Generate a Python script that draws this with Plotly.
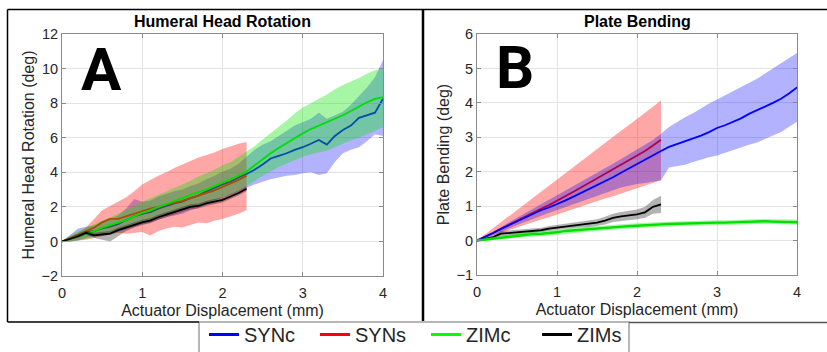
import plotly.graph_objects as go

W, H = 827, 352

# ---------------- data ----------------
X_C = [i / 10 for i in range(41)]   # 0 .. 4.0 mm  (SYNc, ZIMc)
X_S = [i / 10 for i in range(24)]   # 0 .. 2.3 mm  (SYNs, ZIMs)

# Panel A: Humeral Head Rotation (deg)
A_SYNc_mean = [0, 0.15, 0.35, 0.55, 0.6, 0.75, 0.85, 1.0, 1.25, 1.45, 1.6, 1.7, 1.9, 2.05, 2.2, 2.3, 2.5, 2.65, 2.9, 3.1,
               3.3, 3.45, 3.7, 3.9, 4.15, 4.45, 4.8, 4.95, 5.1, 5.3, 5.45, 5.65, 5.87, 5.6, 6.1, 6.45, 6.7, 7.15, 7.3, 7.45, 8.25]
A_SYNc_hi = [0, 0.35, 0.75, 0.85, 0.9, 1.1, 1.3, 1.5, 1.9, 2.45, 2.3, 2.35, 2.6, 2.75, 2.9, 3.0, 3.2, 3.35, 3.6, 3.8,
             4.05, 4.2, 4.5, 4.9, 5.3, 5.6, 5.8, 6.1, 6.4, 6.7, 6.9, 7.1, 7.45, 7.1, 7.3, 7.5, 7.9, 8.4, 8.9, 9.5, 10.5]
A_SYNc_lo = [0, 0.0, 0.05, 0.2, 0.3, 0.4, 0.45, 0.55, 0.7, 0.85, 1.0, 1.1, 1.25, 1.4, 1.5, 1.6, 1.8, 1.95, 2.2, 2.35,
             2.55, 2.7, 2.9, 3.1, 3.3, 3.45, 3.6, 3.7, 3.8, 3.85, 3.95, 4.0, 3.85, 3.95, 4.6, 5.1, 5.3, 5.45, 5.8, 6.2, 6.1]

A_ZIMc_mean = [0, 0.15, 0.3, 0.45, 0.6, 0.8, 0.95, 1.1, 1.25, 1.45, 1.65, 1.8, 2.0, 2.15, 2.35, 2.5, 2.7, 2.85, 3.0, 3.2,
               3.4, 3.6, 3.8, 4.05, 4.4, 4.8, 5.1, 5.4, 5.7, 6.0, 6.25, 6.5, 6.7, 6.9, 7.1, 7.3, 7.55, 7.8, 8.05, 8.25, 8.35]
A_ZIMc_hi = [0, 0.35, 0.6, 0.8, 1.0, 1.2, 1.4, 1.6, 1.85, 2.05, 2.3, 2.5, 2.7, 2.9, 3.1, 3.3, 3.5, 3.75, 3.95, 4.15,
             4.4, 4.6, 4.9, 5.2, 5.5, 5.9, 6.25, 6.6, 7.0, 7.4, 7.75, 8.0, 8.25, 8.5, 8.8, 9.05, 9.25, 9.45, 9.7, 9.9, 10.0]
A_ZIMc_lo = [0, 0.0, 0.05, 0.15, 0.25, 0.4, 0.5, 0.65, 0.8, 0.95, 1.1, 1.25, 1.4, 1.55, 1.7, 1.85, 2.0, 2.1, 2.25, 2.4,
             2.55, 2.75, 2.95, 3.2, 3.5, 3.8, 4.05, 4.3, 4.5, 4.7, 4.9, 5.05, 5.15, 5.25, 5.45, 5.65, 5.85, 6.0, 6.2, 6.4, 6.6]

A_SYNs_mean = [0, 0.2, 0.4, 0.6, 0.8, 1.1, 1.3, 1.3, 1.45, 1.6, 1.75, 1.9, 2.0, 2.15, 2.25, 2.35, 2.5, 2.65, 2.8, 2.95, 3.15, 3.35, 3.55, 3.8]
A_SYNs_hi = [0, 0.3, 0.5, 0.8, 1.3, 1.8, 2.05, 2.3, 2.55, 2.9, 3.3, 3.55, 3.8, 4.0, 4.25, 4.45, 4.65, 4.85, 5.0, 5.15, 5.35, 5.5, 5.65, 5.75]
A_SYNs_lo = [0, 0.0, 0.05, 0.1, 0.2, 0.3, 0.4, 0.5, 0.45, 0.5, 0.55, 0.35, 0.6, 0.75, 0.85, 0.8, 0.95, 1.1, 1.05, 1.2, 1.3, 1.45, 1.6, 1.8]

A_ZIMs_mean = [0, 0.15, 0.3, 0.5, 0.35, 0.4, 0.45, 0.65, 0.8, 0.95, 1.1, 1.2, 1.4, 1.55, 1.7, 1.85, 2.0, 2.05, 2.2, 2.3, 2.4, 2.6, 2.8, 3.05]
A_ZIMs_hi = [0, 0.2, 0.4, 0.6, 0.5, 0.55, 0.6, 0.8, 0.95, 1.1, 1.25, 1.35, 1.55, 1.7, 1.85, 2.0, 2.15, 2.2, 2.35, 2.45, 2.55, 2.75, 2.95, 3.2]
A_ZIMs_lo = [0, 0.1, 0.2, 0.4, 0.2, 0.1, 0.0, 0.3, 0.6, 0.8, 0.95, 1.05, 1.25, 1.4, 1.55, 1.7, 1.85, 1.9, 2.05, 2.15, 2.25, 2.45, 2.65, 2.9]

# Panel B: Plate Bending (deg)
B_SYNc_mean = [0, 0.1, 0.22, 0.34, 0.45, 0.56, 0.66, 0.77, 0.88, 0.96, 1.05, 1.16, 1.27, 1.38, 1.49, 1.6, 1.72, 1.84, 1.97, 2.1,
               2.22, 2.34, 2.47, 2.6, 2.72, 2.8, 2.87, 2.95, 3.05, 3.15, 3.27, 3.35, 3.45, 3.55, 3.68, 3.78, 3.88, 4.0, 4.12, 4.27, 4.45]
B_SYNc_hi = [0, 0.1, 0.25, 0.4, 0.53, 0.66, 0.79, 0.92, 1.05, 1.18, 1.3, 1.43, 1.56, 1.7, 1.83, 1.96, 2.1, 2.23, 2.37, 2.5,
             2.64, 2.78, 2.93, 3.1, 3.3, 3.45, 3.58, 3.7, 3.85, 3.98, 4.1, 4.22, 4.35, 4.45, 4.57, 4.7, 4.85, 5.0, 5.15, 5.3, 5.45]
B_SYNc_lo = [0, 0.06, 0.15, 0.25, 0.35, 0.45, 0.55, 0.63, 0.72, 0.8, 0.88, 0.97, 1.06, 1.14, 1.22, 1.3, 1.38, 1.46, 1.54, 1.6,
             1.64, 1.67, 1.7, 1.75, 2.12, 2.16, 2.2, 2.28, 2.36, 2.42, 2.47, 2.55, 2.62, 2.7, 2.78, 2.85, 2.95, 3.05, 3.15, 3.3, 3.45]

B_ZIMc_mean = [0, 0.03, 0.06, 0.09, 0.12, 0.15, 0.17, 0.19, 0.2, 0.21, 0.24, 0.28, 0.3, 0.32, 0.33, 0.35, 0.37, 0.39, 0.4, 0.42,
               0.43, 0.45, 0.46, 0.47, 0.48, 0.49, 0.5, 0.5, 0.51, 0.51, 0.52, 0.52, 0.53, 0.54, 0.55, 0.56, 0.56, 0.55, 0.54, 0.53, 0.53]
B_ZIMc_hi = [0, 0.07, 0.11, 0.15, 0.18, 0.21, 0.24, 0.26, 0.27, 0.28, 0.31, 0.35, 0.37, 0.39, 0.4, 0.42, 0.44, 0.46, 0.47, 0.49,
             0.5, 0.52, 0.53, 0.54, 0.55, 0.56, 0.57, 0.57, 0.58, 0.58, 0.59, 0.59, 0.6, 0.61, 0.62, 0.63, 0.63, 0.62, 0.61, 0.61, 0.61]
B_ZIMc_lo = [0, 0.0, 0.02, 0.04, 0.06, 0.09, 0.11, 0.12, 0.13, 0.14, 0.17, 0.21, 0.23, 0.25, 0.26, 0.28, 0.3, 0.32, 0.33, 0.35,
             0.36, 0.38, 0.39, 0.4, 0.41, 0.42, 0.43, 0.43, 0.44, 0.44, 0.45, 0.45, 0.46, 0.47, 0.48, 0.49, 0.49, 0.48, 0.47, 0.46, 0.46]

B_SYNs_mean = [0, 0.1, 0.22, 0.34, 0.46, 0.58, 0.69, 0.8, 0.92, 1.03, 1.15, 1.28, 1.41, 1.54, 1.67, 1.8, 1.93, 2.06, 2.19, 2.32, 2.45, 2.6, 2.76, 2.93]
B_SYNs_hi = [0, 0.18, 0.35, 0.53, 0.71, 0.88, 1.06, 1.24, 1.42, 1.59, 1.77, 1.95, 2.12, 2.3, 2.48, 2.65, 2.83, 3.01, 3.19, 3.36, 3.54, 3.72, 3.89, 4.07]
B_SYNs_lo = [0, 0.08, 0.15, 0.23, 0.3, 0.38, 0.46, 0.53, 0.61, 0.68, 0.76, 0.84, 0.91, 0.99, 1.07, 1.14, 1.22, 1.29, 1.37, 1.45, 1.52, 1.6, 1.67, 1.75]

B_ZIMs_mean = [0, 0.05, 0.1, 0.2, 0.22, 0.24, 0.26, 0.28, 0.3, 0.35, 0.38, 0.41, 0.44, 0.46, 0.48, 0.52, 0.58, 0.66, 0.7, 0.73, 0.76, 0.82, 0.98, 1.05]
B_ZIMs_hi = [0, 0.08, 0.15, 0.28, 0.3, 0.32, 0.33, 0.35, 0.37, 0.42, 0.45, 0.48, 0.51, 0.54, 0.57, 0.62, 0.69, 0.78, 0.83, 0.87, 0.9, 0.98, 1.18, 1.3]
B_ZIMs_lo = [0, 0.02, 0.05, 0.12, 0.14, 0.16, 0.19, 0.21, 0.23, 0.28, 0.31, 0.34, 0.37, 0.38, 0.39, 0.42, 0.47, 0.54, 0.57, 0.59, 0.62, 0.66, 0.78, 0.8]

SERIES = ["SYNc", "SYNs", "ZIMc", "ZIMs"]
LINE_COLORS = {"SYNc": "#0000ff", "SYNs": "#ff0000", "ZIMc": "#00e000", "ZIMs": "#000000"}
FILL_COLORS = {"SYNc": "rgba(0,0,255,0.30)", "SYNs": "rgba(255,0,0,0.35)",
               "ZIMc": "rgba(0,230,0,0.35)", "ZIMs": "rgba(0,0,0,0.30)"}

TITLES = ["Humeral Head Rotation", "Plate Bending"]
YTITLES = ["Humeral Head Rotation (deg)", "Plate Bending (deg)"]
XTITLE = "Actuator Displacement (mm)"
PANEL_LETTERS = ["A", "B"]

# --------------- figure ---------------
fig = go.Figure()

def px_x(p):
    return p / W

def px_y(p):
    return 1 - p / H

def add_series(xs, mean, hi, lo, name, xa, ya, lw):
    fig.add_trace(go.Scatter(x=list(xs) + list(xs)[::-1], y=list(hi) + list(lo)[::-1],
                             fill="toself", fillcolor=FILL_COLORS[name], line=dict(width=0),
                             mode="lines", hoverinfo="skip", showlegend=False, xaxis=xa, yaxis=ya))
    fig.add_trace(go.Scatter(x=xs, y=mean, mode="lines", line=dict(color=LINE_COLORS[name], width=lw),
                             showlegend=False, name=name, xaxis=xa, yaxis=ya))

# Panel A
add_series(X_C, A_SYNc_mean, A_SYNc_hi, A_SYNc_lo, "SYNc", "x", "y", 1.8)
add_series(X_S, A_SYNs_mean, A_SYNs_hi, A_SYNs_lo, "SYNs", "x", "y", 1.8)
add_series(X_C, A_ZIMc_mean, A_ZIMc_hi, A_ZIMc_lo, "ZIMc", "x", "y", 1.8)
add_series(X_S, A_ZIMs_mean, A_ZIMs_hi, A_ZIMs_lo, "ZIMs", "x", "y", 1.8)
# Panel B
add_series(X_S, B_SYNs_mean, B_SYNs_hi, B_SYNs_lo, "SYNs", "x2", "y2", 1.8)
add_series(X_C, B_SYNc_mean, B_SYNc_hi, B_SYNc_lo, "SYNc", "x2", "y2", 1.8)
add_series(X_S, B_ZIMs_mean, B_ZIMs_hi, B_ZIMs_lo, "ZIMs", "x2", "y2", 1.8)
add_series(X_C, B_ZIMc_mean, B_ZIMc_hi, B_ZIMc_lo, "ZIMc", "x2", "y2", 2.4)

# legend-only entries
for s in SERIES:
    fig.add_trace(go.Scatter(x=[None], y=[None], mode="lines", name=s,
                             line=dict(color=LINE_COLORS[s] if s != "ZIMc" else "#00ff00", width=3),
                             xaxis="x", yaxis="y"))

FONT = "Liberation Sans, Arial, sans-serif"
tickfont = dict(family=FONT, size=14.5, color="#262626")
titlefont = dict(family=FONT, size=16, color="#262626")

axis_common = dict(showgrid=True, gridcolor="#e3e3e3", gridwidth=1, zeroline=False,
                   showline=True, linecolor="#8a8a8a", linewidth=1, mirror="ticks",
                   ticks="inside", ticklen=4, tickcolor="#8a8a8a", tickfont=tickfont)

pA = (62, 383, 34, 276)
pB = (477, 797, 34, 275)

fig.update_layout(
    width=W, height=H, margin=dict(l=0, r=0, t=0, b=0, autoexpand=False),
    paper_bgcolor="white", plot_bgcolor="white",
    xaxis=dict(domain=[px_x(pA[0]), px_x(pA[1])], range=[0, 4], dtick=1, anchor="y", ticklabelstandoff=4,
               title=dict(text=XTITLE, font=titlefont, standoff=4), **axis_common),
    yaxis=dict(domain=[px_y(pA[3]), px_y(pA[2])], range=[-2, 12], dtick=2, anchor="x",
               title=dict(text=YTITLES[0], font=titlefont, standoff=2), **axis_common),
    xaxis2=dict(domain=[px_x(pB[0]), px_x(pB[1])], range=[0, 4], dtick=1, anchor="y2", ticklabelstandoff=4,
                title=dict(text=XTITLE, font=titlefont, standoff=4), **axis_common),
    yaxis2=dict(domain=[px_y(pB[3]), px_y(pB[2])], range=[-1, 6], dtick=1, anchor="x2",
                title=dict(text=YTITLES[1], font=titlefont, standoff=2), **axis_common),
    showlegend=True,
    legend=dict(orientation="h", x=px_x(204), y=px_y(315), xanchor="left", yanchor="top",
                bgcolor="rgba(0,0,0,0)", borderwidth=0,
                font=dict(family=FONT, size=20, color="#262626"),
                itemwidth=30, tracegroupgap=0, entrywidth=66, entrywidthmode="pixels"),
)

# legend frame (white box with grey border, bottom edge runs off the page)
fig.add_shape(type="rect", xref="paper", yref="paper", x0=px_x(199), x1=px_x(629),
              y0=px_y(322), y1=px_y(370), fillcolor="white", line=dict(color="#a0a0a0", width=1.5),
              layer="above")

# panel titles
for p, t in zip([pA, pB], TITLES):
    fig.add_annotation(x=px_x((p[0] + p[1]) / 2), y=px_y(21), xref="paper", yref="paper",
                       text=f"<b>{t}</b>", showarrow=False, xanchor="center", yanchor="middle",
                       font=dict(family=FONT, size=16, color="black"))

# panel letters
for cx, cy, letter in [(101, 69, PANEL_LETTERS[0]), (515, 68, PANEL_LETTERS[1])]:
    fig.add_annotation(x=px_x(cx), y=px_y(cy), xref="paper", yref="paper",
                       text=f"<b>{letter}</b>", showarrow=False, xanchor="center", yanchor="middle",
                       font=dict(family="Roboto, Liberation Sans", size=60, color="black"))

# outer frame lines
frame = [
    (7.5, 9.5, 827, 9.5, "black", 1.5),
    (7.5, 9.5, 7.5, 322, "black", 1.5),
    (7.5, 322, 199, 322, "black", 1.5),
    (423, 9.5, 423, 321, "black", 2.5),
    (629, 322.5, 827, 322.5, "#555555", 1.5),
]
for x0, y0, x1, y1, c, w in frame:
    fig.add_shape(type="line", xref="paper", yref="paper", x0=px_x(x0), y0=px_y(y0),
                  x1=px_x(x1), y1=px_y(y1), line=dict(color=c, width=w))

fig.write_html("out.html")
